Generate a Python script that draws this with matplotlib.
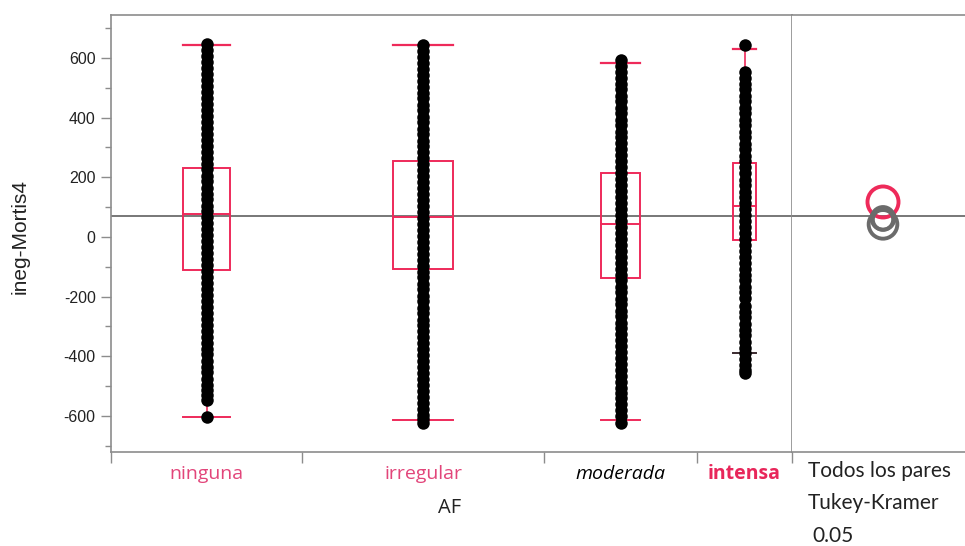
import matplotlib
matplotlib.use("Agg")
import matplotlib.pyplot as plt
from matplotlib.patches import Rectangle, Ellipse

plt.rcParams["axes.unicode_minus"] = False

# Groups of AF and their share of the x axis (proportional to group size)
groups = ["ninguna", "irregular", "moderada", "intensa"]
group_share = [0.2805, 0.3554, 0.2247, 0.1394]

# Raw ineg-Mortis4 values per group
ninguna_vals = [645, 626, 606, 585, 566, 546, 525, 505, 486, 465, 446, 425, 405, 386,
                365, 346, 325, 305, 286, 265, 245, 226, 205, 186, 165, 145, 126, 105,
                86, 65, 45, 26, 5, -15, -34, -55, -75, -94, -115, -135, -154, -175,
                -195, -214, -235, -255, -274, -295, -315, -334, -355, -375, -394, -415,
                -435, -454, -475, -496, -512, -530, -546, -604]
irregular_vals = [643, 624, 603, 584, 563, 544, 523, 504, 483, 464, 443, 424, 403, 384,
                  363, 344, 323, 304, 283, 264, 243, 224, 203, 184, 163, 144, 123, 104,
                  83, 64, 43, 24, 3, -16, -37, -56, -77, -96, -117, -136, -157, -176,
                  -197, -216, -237, -256, -277, -296, -317, -336, -357, -376, -397,
                  -416, -437, -456, -477, -496, -517, -536, -557, -576, -597, -610, -623]
moderada_vals = [593, 574, 553, 534, 513, 494, 473, 454, 433, 414, 393, 374, 353, 334,
                 313, 294, 273, 254, 233, 214, 193, 174, 153, 134, 113, 94, 73, 54, 33,
                 14, -7, -26, -47, -66, -87, -106, -127, -146, -167, -186, -207, -226,
                 -247, -266, -287, -306, -327, -346, -367, -386, -407, -426, -447, -466,
                 -487, -506, -522, -541, -560, -580, -602, -623]
intensa_vals = [644, 553, 534, 512, 494, 473, 455, 433, 414, 392, 374, 353, 334, 312,
                293, 272, 254, 233, 214, 192, 173, 152, 134, 113, 94, 72, 54, 33, 14,
                -8, -27, -48, -66, -88, -107, -128, -146, -167, -186, -204, -232, -252,
                -270, -292, -311, -330, -352, -371, -390, -410, -428, -446, -456]
group_vals = [ninguna_vals, irregular_vals, moderada_vals, intensa_vals]

# Outlier box plot summaries
q1 = [-111, -107, -137, -12]
median = [77, 68, 44, 102]
q3 = [231, 255, 215, 248]
whisk_lo = [-604, -615, -613, -390]
whisk_hi = [644, 643, 584, 630]

grand_mean = 70

# Tukey-Kramer comparison circles (mean, radius)
circle_means = [62, 58, 42, 117]
circle_radii = [38, 34, 48, 52]
circle_colors = ["#6b6b6b", "#6b6b6b", "#6b6b6b", "#ee2a5a"]

label_colors = ["#e2457a", "#e2457a", "black", "#e8265a"]
label_styles = ["normal", "normal", "italic", "normal"]
label_weights = ["normal", "normal", "normal", "bold"]

RED = "#ee2a5a"
GRAY = "#8c8c8c"

W, H = 965, 546
fig = plt.figure(figsize=(W / 100, H / 100), dpi=100)
fig.patch.set_facecolor("white")

bottom = (H - 452) / H
height = (452 - 14.6) / H
ax = fig.add_axes([111 / W, bottom, (792 - 111) / W, height])
ax2 = fig.add_axes([792 / W, bottom, (966 - 792) / W, height])

ylim = (-721, 745)
for a in (ax, ax2):
    a.set_ylim(*ylim)
    for s in a.spines.values():
        s.set_color(GRAY)
        s.set_linewidth(1.2)

# group boundaries and centres along x
edges = [0]
for s in group_share:
    edges.append(edges[-1] + s)
centers = [(edges[i] + edges[i + 1]) / 2 for i in range(len(groups))]
ax.set_xlim(0, edges[-1])

for i, g in enumerate(groups):
    c = centers[i]
    bw = group_share[i] * 0.25
    # whiskers and caps
    ax.plot([c, c], [whisk_lo[i], q1[i]], color=RED, lw=1.2, zorder=2)
    ax.plot([c, c], [q3[i], whisk_hi[i]], color=RED, lw=1.2, zorder=2)
    ax.plot([c - bw / 2, c + bw / 2], [whisk_hi[i]] * 2, color=RED, lw=1.6, zorder=2)
    ax.plot([c - bw / 2, c + bw / 2], [whisk_lo[i]] * 2,
            color=RED if i < 3 else "#3a2a2e", lw=1.4, zorder=2)
    # box and median
    ax.add_patch(Rectangle((c - bw / 2, q1[i]), bw, q3[i] - q1[i], fill=False,
                           edgecolor=RED, lw=1.4, zorder=2))
    ax.plot([c - bw / 2, c + bw / 2], [median[i]] * 2, color=RED, lw=1.4, zorder=2)
    # points
    ax.plot([c] * len(group_vals[i]), group_vals[i], "o", color="black",
            ms=9, mec="black", mew=0, zorder=3)

# grand mean line across both panels
ax.axhline(grand_mean, color="#777777", lw=1.4, zorder=1)
ax2.axhline(grand_mean, color="#777777", lw=1.4, zorder=1)

# y axis
ax.set_yticks([-600, -400, -200, 0, 200, 400, 600])
ax.set_yticks(range(-700, 701, 100), minor=True)
ax.tick_params(axis="y", which="major", length=7, width=1, color=GRAY, pad=4,
               labelsize=11.5, labelcolor="#222222")
ax.tick_params(axis="y", which="minor", length=4, width=1, color=GRAY)
for t in ax.get_yticklabels():
    t.set_family("Liberation Sans")

# x axis: boundary ticks only
ax.set_xticks(edges)
ax.set_xticklabels([])
ax.tick_params(axis="x", length=8, width=1, color=GRAY)

for i, g in enumerate(groups):
    ax.text(centers[i], -0.05, g, transform=ax.get_xaxis_transform(),
            ha="center", va="center", fontsize=14, family="Open Sans",
            color=label_colors[i], style=label_styles[i], weight=label_weights[i])

fig.text(450 / W, 1 - 508 / H, "AF", ha="center", va="center", fontsize=14.5,
         family="Open Sans", color="#222222")
fig.text(20 / W, 1 - 236 / H, "ineg-Mortis4", ha="center", va="center",
         rotation=90, fontsize=15, family="Liberation Sans", color="#222222")

# comparison circles panel
ax2.set_xlim(0, 1)
ax2.set_xticks([])
ax2.set_yticks([])
ax2.spines["right"].set_visible(False)
ax2.spines["left"].set_visible(False)
o = ax2.transData.transform((0, 0))
sx = ax2.transData.transform((1, 0))[0] - o[0]
sy = ax2.transData.transform((0, 1))[1] - o[1]
cx = 0.523
order = [3, 0, 1, 2]
for i in order:
    r = circle_radii[i]
    ax2.add_patch(Ellipse((cx, circle_means[i]), 2 * r * sy / sx, 2 * r,
                          fill=False, edgecolor=circle_colors[i], lw=2.8, zorder=3))

for txt, x, y in [("Todos los pares", 808, 471), ("Tukey-Kramer", 808, 503),
                  ("0.05", 812, 536)]:
    fig.text(x / W, 1 - y / H, txt, ha="left", va="center", fontsize=15,
             family="Lato", color="#222222")

fig.savefig("out.png", dpi=100)
